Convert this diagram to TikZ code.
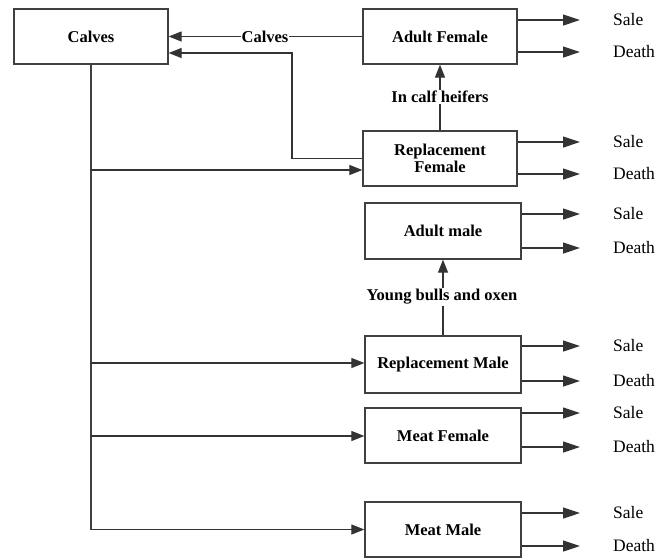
\documentclass[tikz,border=0pt]{standalone}
\usepackage{fontspec}
\setmainfont{Liberation Serif}
\usetikzlibrary{arrows.meta}
\begin{document}
\begin{tikzpicture}[x=1pt,y=-1pt,
  box/.style={draw=black!75,line width=1.3pt,rectangle,minimum width=154pt,minimum height=55pt,inner sep=0pt,
    font=\fontsize{16.5}{17.5}\selectfont\bfseries,align=center},
  flow/.style={draw=black!80,line width=1.2pt,-{Triangle[length=13pt,width=10pt]}},
  outarr/.style={draw=black!80,line width=1.2pt,-{Triangle[length=17pt,width=11pt]}},
  line/.style={draw=black!75,line width=1.3pt},
  lab/.style={fill=white,inner sep=1pt,font=\fontsize{16.5}{17.5}\selectfont\bfseries},
  fate/.style={anchor=west,inner sep=0pt,font=\fontsize{17.5}{18}\selectfont}]
\useasboundingbox (0,0) rectangle (661,558);
% boxes
\node[box] (calves) at (91,36.5) {Calves};
\node[box] (af) at (440,36.5) {Adult Female};
\node[box] (rf) at (440,158.5) {Replacement\\Female};
\node[box,minimum width=156pt,minimum height=56pt] (am) at (443,231) {Adult male};
\node[box,minimum width=156pt,minimum height=57pt] (rm) at (443,364.5) {Replacement Male};
\node[box,minimum width=156pt] (mf) at (443,435.5) {Meat Female};
\node[box,minimum width=156pt] (mm) at (443,529.5) {Meat Male};
% fate labels
\node[fate] (afs) at (613,20) {Sale};
\node[fate] (afd) at (613,52) {Death};
\node[fate] (rfs) at (613,142) {Sale};
\node[fate] (rfd) at (613,174) {Death};
\node[fate] (ams) at (613,214) {Sale};
\node[fate] (amd) at (613,248) {Death};
\node[fate] (rms) at (613,346) {Sale};
\node[fate] (rmd) at (613,381) {Death};
\node[fate] (mfs) at (613,413) {Sale};
\node[fate] (mfd) at (613,447) {Death};
\node[fate] (mms) at (613,513) {Sale};
\node[fate] (mmd) at (613,546) {Death};
\foreach \b/\s/\d in {af/afs/afd,rf/rfs/rfd,am/ams/amd,rm/rms/rmd,mf/mfs/mfd,mm/mms/mmd}{
  \draw[outarr] (\b.east |- \s.west) -- ([xshift=-33pt]\s.west);
  \draw[outarr] (\b.east |- \d.west) -- ([xshift=-33pt]\d.west);
}
% calves return arrows
\draw[flow] (af.west) -- (calves.east);
\node[lab] (calveslab) at (265,36.5) {Calves};
\coordinate (ret) at (292,53);
\draw[flow] (rf.west) -| (ret) -- (calves.east |- ret);
% upward transitions
\draw[flow] (rf.north) -- (af.south);
\node[lab] (icf) at (440,97) {In calf heifers};
\draw[flow] (rm.north) -- (am.south);
\node[lab] (ybo) at (442,297) {Young bulls and oxen};
% trunk
\coordinate (trunkend) at (91,529.5);
\draw[line] (calves.south) -- (trunkend);
\coordinate (b1) at (91,170);
\coordinate (b2) at (91,363);
\coordinate (b3) at (91,436);
\draw[flow] (b1) -- (rf.west |- b1);
\draw[flow] (b2) -- (rm.west |- b2);
\draw[flow] (b3) -- (mf.west |- b3);
\draw[flow] (trunkend) -- (mm.west);
\end{tikzpicture}
\end{document}
